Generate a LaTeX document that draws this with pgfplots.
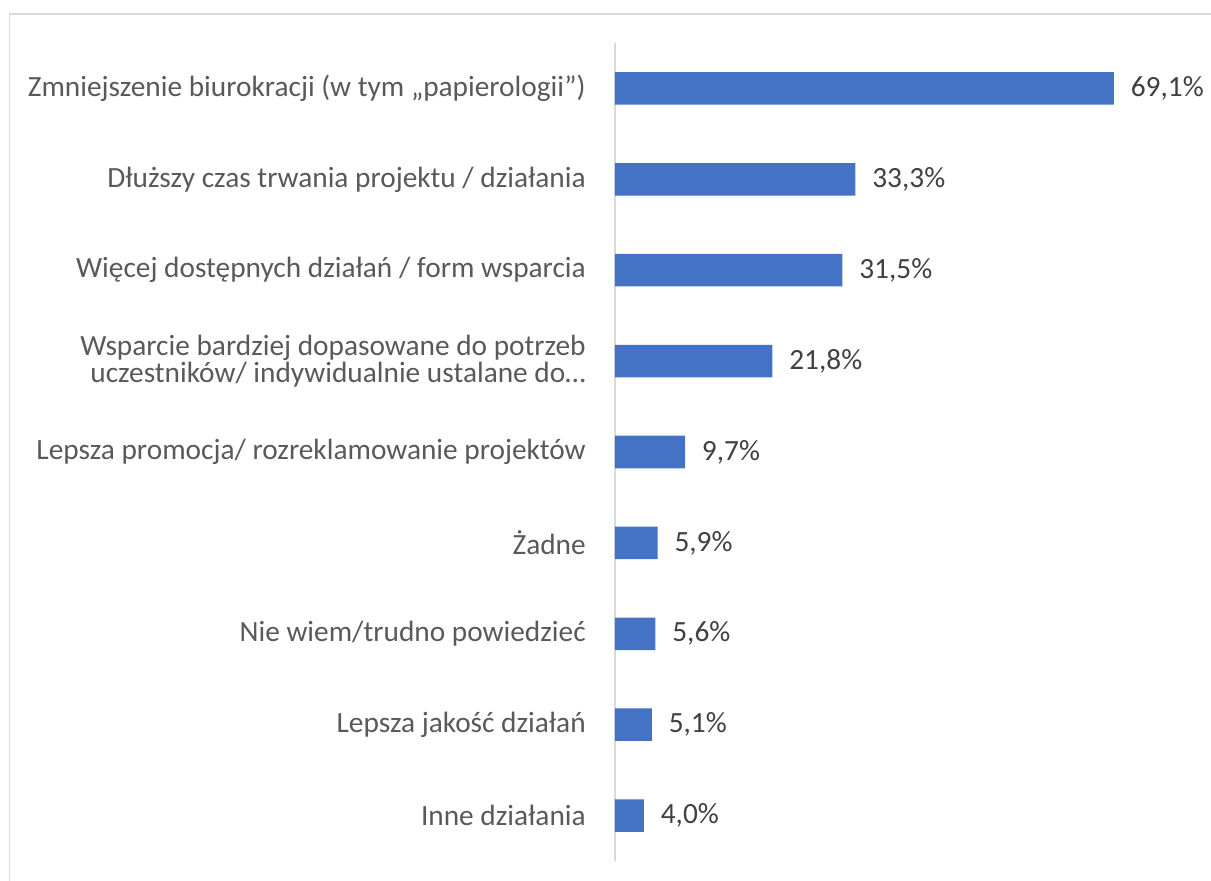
\documentclass[border=0pt]{standalone}
\usepackage{fontspec}
\setmainfont{Carlito}
\usepackage{pgfplots}
\pgfplotsset{compat=1.18}
\definecolor{barblue}{HTML}{4472C4}
\definecolor{gridgray}{HTML}{D9D9D9}
\definecolor{labgray}{HTML}{595959}
\definecolor{datgray}{HTML}{404040}
\begin{document}
\fontsize{22}{20.5}\selectfont
\begin{tikzpicture}[x=0.75pt,y=0.75pt]
\useasboundingbox (0,0) rectangle (1211,881);
\draw[gridgray, line width=1.1pt] (9.5,-5) -- (9.5,867) -- (1220,867);
\begin{axis}[
  at={(461.25pt,15pt)}, anchor=south west,
  scale only axis,
  width=433.2pt, height=613.5pt,
  xmin=0, xmax=80,
  ymin=-0.5, ymax=8.5,
  y dir=reverse,
  xbar, bar width=24.4pt,
  axis x line=none,
  axis y line*=left,
  y axis line style={gridgray, line width=1.1pt, -},
  ytick={0,...,8},
  yticklabels={{Zmniejszenie biurokracji (w tym „papierologii”)},
    {Dłuższy czas trwania projektu / działania},
    {Więcej dostępnych działań / form wsparcia},
    {Wsparcie bardziej dopasowane do potrzeb\\uczestników/ indywidualnie ustalane do…},
    {Lepsza promocja/ rozreklamowanie projektów},
    {Żadne},
    {Nie wiem/trudno powiedzieć},
    {Lepsza jakość działań},
    {Inne działania}},
  major tick length=0pt,
  yticklabel style={align=right, inner sep=0pt, xshift=-21.75pt, text=labgray, font=\fontsize{22}{20.5}\selectfont},
  clip=false,
  nodes near coords={\pgfmathprintnumber[fixed,fixed zerofill,precision=1,use comma,assume math mode=true]{\pgfplotspointmeta}\%},
  nodes near coords style={anchor=west, inner sep=0pt, xshift=12.5pt, text=datgray, font=\fontsize{22}{20.5}\selectfont},
  point meta=x,
]
\addplot[fill=barblue, draw=none] coordinates {
 (69.1,0) (33.3,1) (31.5,2) (21.8,3) (9.7,4) (5.9,5) (5.6,6) (5.1,7) (4.0,8)
};
\end{axis}
\end{tikzpicture}
\end{document}
